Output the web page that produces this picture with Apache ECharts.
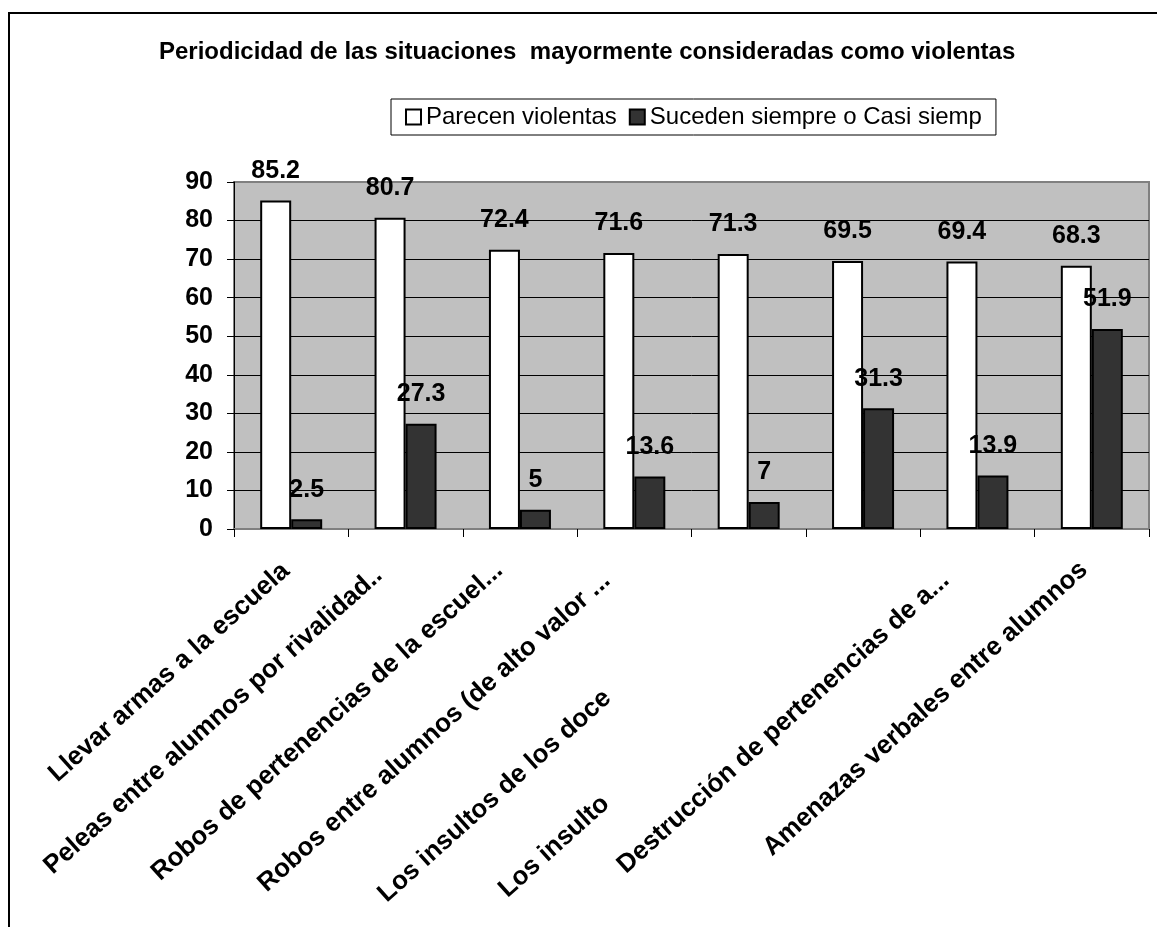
<!DOCTYPE html>
<html>
<head>
<meta charset="utf-8">
<title>Periodicidad de las situaciones mayormente consideradas como violentas</title>
<script src="https://cdn.jsdelivr.net/npm/echarts@6/dist/echarts.min.js"></script>
<style>
  html, body { margin: 0; padding: 0; background: #ffffff; }
  #chart { width: 1157px; height: 927px; }
</style>
</head>
<body>
<div id="chart"></div>
<script>
// etiquetas tal como se ven en el gráfico (las dos de "insultos" aparecen cortadas)
const categories = [
  'Llevar armas a la escuela',
  'Peleas entre alumnos por rivalidad..',
  'Robos de pertenencias de la escuel...',
  'Robos entre alumnos (de alto valor ...',
  'Los insultos de los doce',
  'Los insulto',
  'Destrucción de pertenencias de a...',
  'Amenazas verbales entre alumnos'
];
const seriesNames = ['Parecen violentas', 'Suceden siempre o Casi siemp'];
const parecenViolentas = [85.2, 80.7, 72.4, 71.6, 71.3, 69.5, 69.4, 68.3];
const sucedenSiempre = [2.5, 27.3, 5, 13.6, 7, 31.3, 13.9, 51.9];
const yMin = 0;
const yMax = 90;
const yStep = 10;

const fontFamily = 'Arial, "Liberation Sans", sans-serif';

// per-label nudges for the rotated category labels:
// [shift back along the text line, shift across it], done with rich-text padding.
// the cut-off "insultos" labels need a big shift so they start where the original ones do
const labelShift = [
  [13, 6.5], [32, -4.7], [24, -4.4], [36, -1.4],
  [199, 10], [356, 10.8], [39, -4.3], [14, 3.9]
];
const labelRich = {};
labelShift.forEach((s, i) => {
  const along = s[0];
  const across = s[1];
  labelRich['p' + i] = {
    padding: [Math.max(0, 2 * across), along, Math.max(0, -2 * across), 0],
    fontSize: 26,
    fontWeight: 'bold',
    color: '#000000',
    fontFamily: fontFamily
  };
});

const barLabel = {
  show: true,
  position: 'top',
  distance: 17,
  fontSize: 25,
  fontWeight: 'bold',
  color: '#000000',
  fontFamily: fontFamily
};

const chart = echarts.init(document.getElementById('chart'), null, { renderer: 'canvas' });

chart.setOption({
  animation: false,
  backgroundColor: '#ffffff',
  textStyle: { fontFamily: fontFamily, color: '#000000' },
  title: {
    text: 'Periodicidad de las situaciones  mayormente consideradas como violentas',
    left: 159,
    top: 40,
    padding: 0,
    textStyle: { fontSize: 24, fontWeight: 'bold', color: '#000000', fontFamily: fontFamily }
  },
  legend: {
    data: seriesNames,
    left: 391,
    top: 99,
    padding: [6, 14, 6, 14],
    itemGap: 12,
    itemWidth: 15,
    itemHeight: 15,
    icon: 'rect',
    borderColor: '#000000',
    borderWidth: 1,
    backgroundColor: '#ffffff',
    textStyle: { fontSize: 24, color: '#000000', fontFamily: fontFamily }
  },
  graphic: [
    {
      type: 'rect',
      silent: true,
      shape: { x: 9, y: 13, width: 1200, height: 1000 },
      style: { fill: 'none', stroke: '#000000', lineWidth: 2 }
    }
  ],
  grid: {
    left: 234,
    top: 182,
    right: 8,
    bottom: 398,
    containLabel: false,
    outerBoundsMode: 'none',
    show: true,
    backgroundColor: '#C0C0C0',
    borderColor: '#808080',
    borderWidth: 2
  },
  xAxis: {
    type: 'category',
    data: categories,
    axisLine: { show: true, lineStyle: { color: '#808080', width: 2 } },
    axisTick: { show: true, length: 8, interval: 0, lineStyle: { color: '#000000', width: 1 } },
    axisLabel: {
      interval: 0,
      rotate: 42,
      margin: 25,
      formatter: (value, index) => '{p' + index + '|' + value + '}',
      rich: labelRich
    },
    splitLine: { show: false }
  },
  yAxis: {
    type: 'value',
    min: yMin,
    max: yMax,
    interval: yStep,
    axisLine: { show: true, lineStyle: { color: '#000000', width: 1 } },
    axisTick: { show: true, length: 7, lineStyle: { color: '#000000', width: 1 } },
    axisLabel: {
      margin: 21,
      fontSize: 25,
      fontWeight: 'bold',
      color: '#000000',
      fontFamily: fontFamily
    },
    splitLine: { show: true, showMaxLine: false, lineStyle: { color: '#000000', width: 1 } }
  },
  series: [
    {
      name: seriesNames[0],
      type: 'bar',
      data: parecenViolentas,
      barWidth: 31,
      barGap: '0%',
      itemStyle: { color: '#ffffff', borderColor: '#000000', borderWidth: 2 },
      label: barLabel
    },
    {
      name: seriesNames[1],
      type: 'bar',
      data: sucedenSiempre,
      barWidth: 31,
      barGap: '0%',
      itemStyle: { color: '#333333', borderColor: '#000000', borderWidth: 2 },
      label: barLabel
    }
  ]
});
</script>
</body>
</html>
